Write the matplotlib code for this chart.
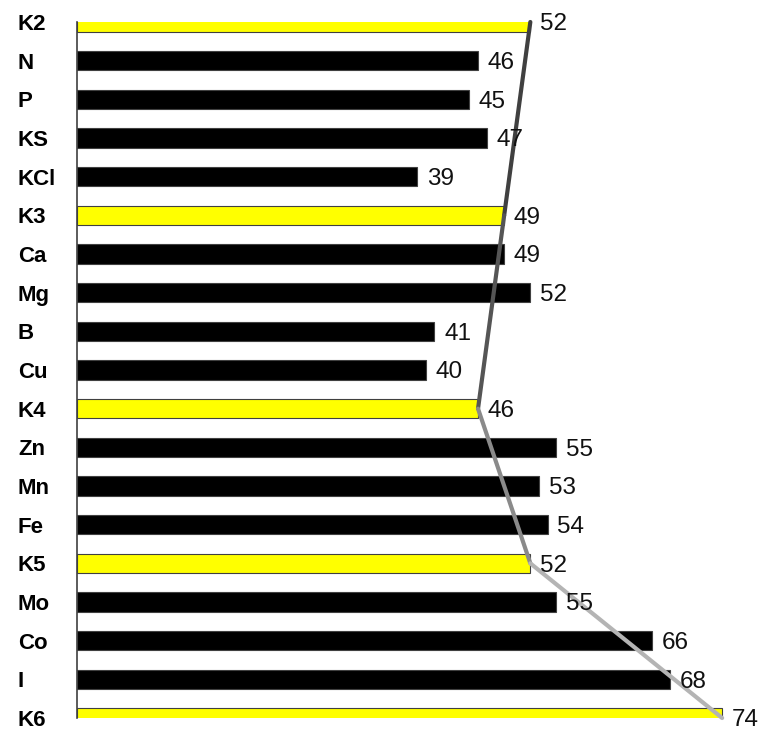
import matplotlib.pyplot as plt

# rows from top to bottom
labels = ['K2', 'N', 'P', 'KS', 'KCl', 'K3', 'Ca', 'Mg', 'B', 'Cu',
          'K4', 'Zn', 'Mn', 'Fe', 'K5', 'Mo', 'Co', 'I', 'K6']
values = [52, 46, 45, 47, 39, 49, 49, 52, 41, 40,
          46, 55, 53, 54, 52, 55, 66, 68, 74]
controls = ['K2', 'K3', 'K4', 'K5', 'K6']

fig = plt.figure(figsize=(7.63, 7.31), dpi=100)
ax = fig.add_axes([77 / 763, 13 / 731, 680 / 763, 696 / 731])

ypos = list(range(len(labels)))
colors = ['#ffff00' if l in controls else 'black' for l in labels]
ax.barh(ypos, values, height=0.5, color=colors, edgecolor='#404040', linewidth=0.8, zorder=2)

# value labels
for y, v in zip(ypos, values):
    ax.text(v + 1.1, y, str(v), va='center_baseline', ha='left', fontsize=17.5,
            family='Liberation Sans', color='#111111', zorder=4)

# line through the control bars, getting lighter downwards
cy = [labels.index(c) for c in controls]
cv = [values[i] for i in cy]
shades = ['#404040', '#555555', '#8a8a8a', '#b4b4b4']
for i in range(len(cy) - 1):
    ax.plot(cv[i:i + 2], cy[i:i + 2], color=shades[i], linewidth=3,
            solid_capstyle='round', zorder=3, clip_on=False)

ax.set_xlim(0, 78)
ax.set_ylim(len(labels) - 1, 0)
ax.set_yticks(ypos)
ax.set_yticklabels(labels, fontsize=16, fontweight='bold', family='Liberation Sans', ha='left')
ax.tick_params(axis='y', length=0, pad=42.5)
ax.set_xticks([])
for s in ['top', 'right', 'bottom']:
    ax.spines[s].set_visible(False)
ax.spines['left'].set_color('#404040')
ax.spines['left'].set_linewidth(1.2)

fig.savefig('out.png', dpi=100)
